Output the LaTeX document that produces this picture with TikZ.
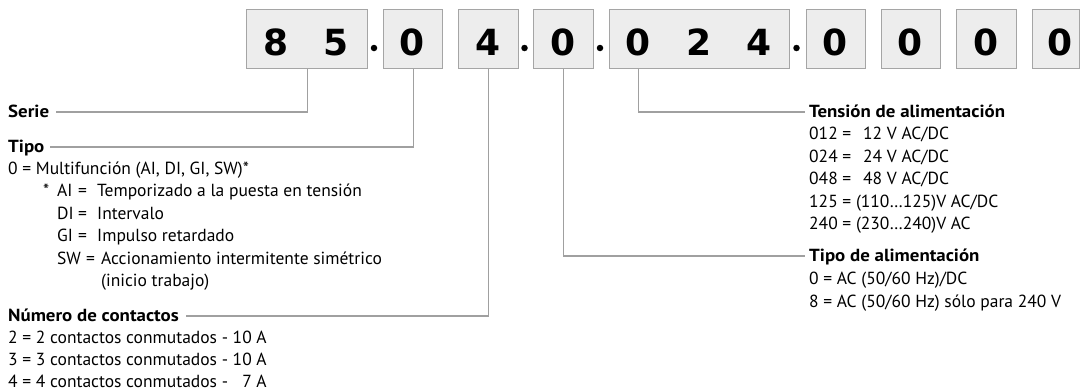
\documentclass[tikz,border=0pt]{standalone}
\usepackage{fontspec}
\setmainfont{PT Sans}[BoldFeatures={FakeStretch=1.08}]
\newfontfamily\digitfont{DejaVu Sans}
\usetikzlibrary{calc}
\definecolor{boxfill}{HTML}{EDEDED}
\definecolor{boxline}{HTML}{A5A5A5}
\definecolor{connc}{HTML}{A0A0A0}
\begin{document}
\begin{tikzpicture}[x=1pt,y=-1pt,
 codebox/.style={draw=boxline,fill=boxfill,line width=1.1pt,minimum height=59pt,inner sep=0pt,anchor=north west},
 digit/.style={font=\digitfont\bfseries\fontsize{36}{36}\selectfont,anchor=base,inner sep=0pt},
 sepdot/.style={circle,fill=black,minimum size=6.5pt,inner sep=0pt},
 conn/.style={draw=connc,line width=1.1pt},
 head/.style={font=\bfseries\fontsize{17.5}{20}\selectfont,anchor=base west,inner sep=0pt,text height=12pt,text depth=2pt},
 txt/.style={font=\fontsize{17.5}{20}\selectfont,anchor=base west,inner sep=0pt},
]
\useasboundingbox (0,0) rectangle (1080,391);
% boxes
\node[codebox,minimum width=121pt] (b1) at (246,9) {};
\node[codebox,minimum width=59pt] (b2) at (383,9) {};
\node[codebox,minimum width=60pt] (b3) at (458,9) {};
\node[codebox,minimum width=60pt] (b4) at (533,9) {};
\node[codebox,minimum width=180pt] (b5) at (609,9) {};
\node[codebox,minimum width=59pt] (b6) at (806,9) {};
\node[codebox,minimum width=59pt] (b7) at (881,9) {};
\node[codebox,minimum width=60pt] (b8) at (956,9) {};
\node[codebox,minimum width=47pt] (b9) at (1032,9) {};
% digits
\node[digit] (d1a) at (276.5,55) {8};
\node[digit] (d1b) at (336.5,55) {5};
\node[digit] (d2) at (412.5,55) {0};
\node[digit] (d3) at (488,55) {4};
\node[digit] (d4) at (563,55) {0};
\node[digit] (d5a) at (638.5,55) {0};
\node[digit] (d5b) at (699,55) {2};
\node[digit] (d5c) at (759.5,55) {4};
\node[digit] (d6) at (835.5,55) {0};
\node[digit] (d7) at (910.5,55) {0};
\node[digit] (d8) at (986,55) {0};
\node[digit] (d9) at (1060,55) {0};
% dots
\node[sepdot] (p1) at (374,48) {};
\node[sepdot] (p2) at (524.5,48) {};
\node[sepdot] (p3) at (600,48) {};
\node[sepdot] (p4) at (796.5,48) {};
% left labels
\node[head] (serie) at (8,117) {Serie};
\node[head] (tipo) at (8,152) {Tipo};
\node[txt] (t0) at (8,174.4) {0 = Multifunción (AI, DI, GI, SW)*};
\node[txt] (ast) at (43,196.8) {*};
\node[txt] (ai) at (57,196.8) {AI};
\node[txt] (aieq) at (78,196.8) {=};
\node[txt] (aiv) at (97,196.8) {Temporizado a la puesta en tensión};
\node[txt] (di) at (57,219.2) {DI};
\node[txt] (dieq) at (78,219.2) {=};
\node[txt] (div) at (97,219.2) {Intervalo};
\node[txt] (gi) at (57,241.6) {GI};
\node[txt] (gieq) at (78,241.6) {=};
\node[txt] (giv) at (97,241.6) {Impulso retardado};
\node[txt] (sw) at (57,264) {SW};
\node[txt] (sweq) at (86,264) {=};
\node[txt] (swv) at (101,264) {Accionamiento intermitente simétrico};
\node[txt] (swv2) at (101,286.4) {(inicio trabajo)};
\node[head] (num) at (8,321) {Número de contactos};
\node[txt] (n2) at (8,343.3) {2 = 2 contactos conmutados - 10 A};
\node[txt] (n3) at (8,365.6) {3 = 3 contactos conmutados - 10 A};
\node[txt] (n4) at (8,387.9) {4 = 4 contactos conmutados - \hphantom{1}7 A};
% right labels
\node[head] (tension) at (809,117) {Tensión de alimentación};
\node[txt] (v1) at (809,139.5) {012 =};
\node[txt] (v1v) at (863,139.5) {12 V AC/DC};
\node[txt] (v2) at (809,162) {024 =};
\node[txt] (v2v) at (863,162) {24 V AC/DC};
\node[txt] (v3) at (809,184.5) {048 =};
\node[txt] (v3v) at (863,184.5) {48 V AC/DC};
\node[txt] (v4) at (809,207) {125 = (110…125)V AC/DC};
\node[txt] (v5) at (809,229.5) {240 = (230…240)V AC};
\node[head] (tipoalim) at (809,261) {Tipo de alimentación};
\node[txt] (a0) at (809,284.5) {0 = AC (50/60 Hz)/DC};
\node[txt] (a8) at (809,307.5) {8 = AC (50/60 Hz) sólo para 240 V};
% connectors
\coordinate (c5) at ($(b5.south west)+(29.5,0)$);
\draw[conn] (b1.south) |- ($(serie.east)+(7,0)$);
\draw[conn] (b2.south) |- ($(tipo.east)+(5,0)$);
\draw[conn] (b3.south) |- ($(num.east)+(7,0)$);
\draw[conn] (b4.south) |- ($(tipoalim.west)+(-4,0)$);
\draw[conn] (c5) |- ($(tension.west)+(-4,0)$);
\end{tikzpicture}
\end{document}
